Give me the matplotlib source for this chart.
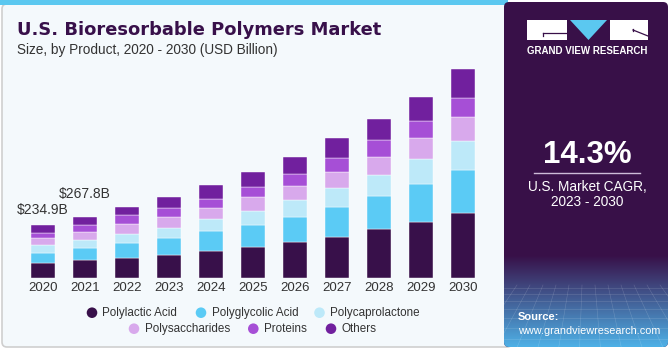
import matplotlib
matplotlib.use("Agg")
import matplotlib.pyplot as plt
import numpy as np
from matplotlib.patches import FancyBboxPatch, Rectangle, Polygon

plt.rcParams['font.family'] = ['Liberation Sans', 'DejaVu Sans']

years = ["2020", "2021", "2022", "2023", "2024", "2025", "2026", "2027", "2028", "2029", "2030"]
polylactic = [66.0, 79.0, 90.6, 102.5, 120.0, 136.4, 158.4, 183.0, 217.0, 247.7, 286.0]
polyglycolic = [46.6, 54.0, 66.0, 73.5, 88.0, 98.0, 112.6, 132.0, 146.5, 167.2, 192.0]
polycaprolactone = [35.2, 35.0, 39.6, 44.0, 52.8, 60.3, 72.2, 81.0, 91.0, 110.0, 124.5]
polysaccharides = [30.8, 36.5, 42.7, 49.7, 48.4, 63.0, 63.0, 71.7, 79.2, 92.4, 107.0]
proteins = [22.0, 28.3, 38.3, 39.6, 39.6, 45.3, 52.8, 63.0, 74.8, 74.8, 83.6]
others = [33.9, 35.0, 36.5, 47.0, 60.3, 64.7, 73.5, 85.4, 91.0, 107.0, 126.3]
series_names = ["Polylactic Acid", "Polyglycolic Acid", "Polycaprolactone",
                "Polysaccharides", "Proteins", "Others"]
series_colors = ["#38104A", "#5BCBF5", "#BDE9F9", "#D8A9EC", "#A64FD6", "#71209E"]
annot_labels = ["$234.9B", "$267.8B"]
annot_values = [234.9, 267.8]

W, H = 670, 350
fig = plt.figure(figsize=(W / 100, H / 100), dpi=100)
fig.patch.set_facecolor("white")

# background axes in pixel coordinates
bg = fig.add_axes([0, 0, 1, 1])
bg.set_xlim(0, W)
bg.set_ylim(H, 0)
bg.axis("off")

card = FancyBboxPatch((2, 4), 510, 343, boxstyle="round,pad=0,rounding_size=5",
                      facecolor="#F4F9FC", edgecolor="#CFCFCF", linewidth=1.2)
bg.add_patch(card)
bg.add_patch(Rectangle((0, 0), 508, 5, facecolor="#5BC8F0", edgecolor="none"))

# right panel
panel = FancyBboxPatch((504, 2), 164, 345, boxstyle="round,pad=0,rounding_size=5",
                       facecolor="#381048", edgecolor="none")
bg.add_patch(panel)
grad = np.linspace(0, 1, 100)[:, None]
c1 = np.array([0x38, 0x10, 0x48]) / 255
c2 = np.array([0x4E, 0xB0, 0xE6]) / 255
img = c1[None, None, :] * (1 - grad[..., None]) + c2[None, None, :] * grad[..., None]
img = np.repeat(img, 2, axis=1)
im = bg.imshow(img, extent=[504, 668, 347, 255], aspect="auto", zorder=2)
im.set_clip_path(panel)
# faint perspective grid texture
for k in range(14):
    xx = 504 + k * 13
    bg.plot([xx, 586 + (xx - 586) * 1.6], [285, 347], color="white", lw=0.4, alpha=0.18, zorder=3,
            clip_path=panel)
for k, yy in enumerate([288, 294, 301, 309, 318, 328, 339]):
    bg.plot([504, 668], [yy, yy], color="white", lw=0.4, alpha=0.18, zorder=3)

# logo
bg.add_patch(Rectangle((527, 20), 39.5, 20, facecolor="white", edgecolor="none", zorder=4))
bg.plot([543, 566], [32.5, 32.5], color="#381048", lw=0.9, zorder=5)
bg.plot([543, 543], [32.5, 36], color="#381048", lw=0.9, zorder=5)
bg.add_patch(Polygon([[570, 20], [607, 20], [588.5, 40]], closed=True,
                     facecolor="#5BC8F0", edgecolor="none", zorder=4))
bg.add_patch(Rectangle((610, 20), 38, 20, facecolor="white", edgecolor="none", zorder=4))
bg.plot([633, 648], [30, 36], color="#381048", lw=0.9, zorder=5)
bg.plot([633, 633], [29, 31], color="#381048", lw=0.9, zorder=5)
bg.text(587.5, 51.5, "GRAND VIEW RESEARCH", color="white", fontsize=7.0, fontweight="bold",
        ha="center", va="center", zorder=5)

bg.text(587.5, 155, "14.3%", color="white", fontsize=22.5, fontweight="bold",
        ha="center", va="center", zorder=5)
bg.plot([534, 640], [173.3, 173.3], color="#CDBBD8", lw=1.0, zorder=5)
bg.text(587.5, 187, "U.S. Market CAGR,", color="white", fontsize=9.8, ha="center", va="center", zorder=5)
bg.text(587.5, 201.5, "2023 - 2030", color="white", fontsize=9.8, ha="center", va="center", zorder=5)
bg.text(518, 316.5, "Source:", color="white", fontsize=8, fontweight="bold", ha="left", va="center", zorder=5)
bg.text(518, 331, "www.grandviewresearch.com", color="white", fontsize=7.8, ha="left", va="center", zorder=5)

# titles
bg.text(17, 35, "U.S. Bioresorbable Polymers Market", color="#38104A", fontsize=12.9,
        fontweight="bold", family=["DejaVu Sans"], ha="left", va="baseline")
bg.text(17, 54.3, "Size, by Product, 2020 - 2030 (USD Billion)", color="#333333", fontsize=9.8,
        ha="left", va="baseline")

# legend (manual, two centered rows)
leg_rows = [[0, 1, 2], [3, 4, 5]]
leg_marker_x = [[92, 201, 319.5], [134, 253.3, 331]]
leg_y = [312.7, 328.7]
for r, idxs in enumerate(leg_rows):
    for j, i in enumerate(idxs):
        bg.scatter([leg_marker_x[r][j]], [leg_y[r]], s=58, color=series_colors[i], zorder=5,
                   edgecolors="none")
        bg.text(leg_marker_x[r][j] + 10.5, leg_y[r], series_names[i], color="#333333",
                fontsize=8.4, ha="left", va="center")

# chart axes
px_left, px_right = 10, 495
px_base, px_top = 278.3, 60
ax = fig.add_axes([px_left / W, (H - px_base) / H, (px_right - px_left) / W, (px_base - px_top) / H])
ax.patch.set_alpha(0)
x = np.arange(len(years))
ax.set_xlim((px_left - 42.8) / 42, (px_right - 42.8) / 42)
ax.set_ylim(0, (px_base - px_top) * 4.4)
data = [polylactic, polyglycolic, polycaprolactone, polysaccharides, proteins, others]
bottom = np.zeros(len(years))
for vals, col in zip(data, series_colors):
    ax.bar(x, vals, width=0.58, bottom=bottom, color=col, edgecolor="#FFFFFF", linewidth=0.3)
    bottom += np.array(vals)
for i, (lab, v) in enumerate(zip(annot_labels, annot_values)):
    off = 5.5 if i == 0 else 12
    ax.annotate(lab, (x[i], bottom[i]), xytext=(0, off), textcoords="offset points",
                ha="center", va="bottom", fontsize=10, color="#333333")
ax.set_xticks(x)
ax.set_xticklabels(years, fontsize=9.5, color="#333333")
ax.tick_params(axis="x", length=0, pad=2.5)
ax.set_yticks([])
for s in ax.spines.values():
    s.set_visible(False)

fig.savefig("out.png", dpi=100)
